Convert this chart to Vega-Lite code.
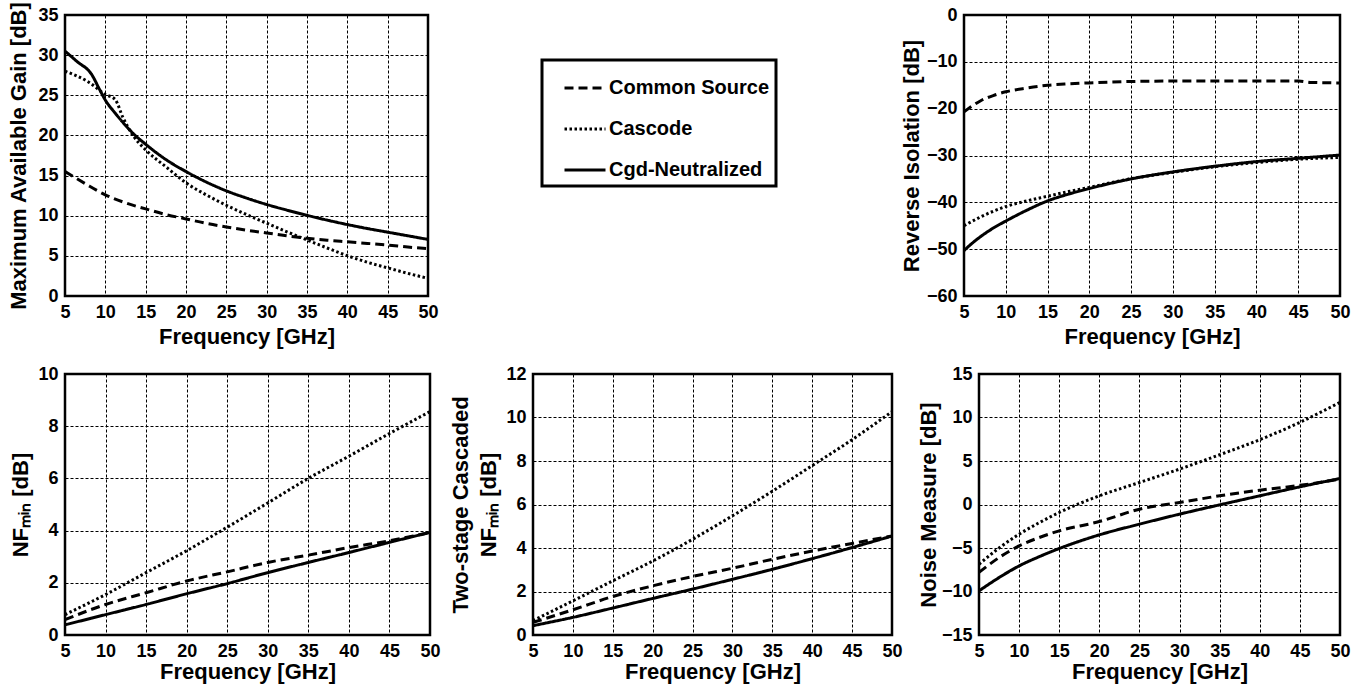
{
  "$schema": "https://vega.github.io/schema/vega-lite/v6.json",
  "background": "white",
  "padding": {"left": 6, "top": 0, "right": 5, "bottom": 2},
  "spacing": 14,
  "datasets": {
    "mag": [
      {"s": "Common Source", "f": 5, "v": 15.5}, {"s": "Common Source", "f": 7.5, "v": 14.0}, {"s": "Common Source", "f": 10, "v": 12.6},
      {"s": "Common Source", "f": 12.5, "v": 11.6}, {"s": "Common Source", "f": 15, "v": 10.85}, {"s": "Common Source", "f": 17.5, "v": 10.15},
      {"s": "Common Source", "f": 20, "v": 9.6}, {"s": "Common Source", "f": 22.5, "v": 9.05}, {"s": "Common Source", "f": 25, "v": 8.6},
      {"s": "Common Source", "f": 27.5, "v": 8.2}, {"s": "Common Source", "f": 30, "v": 7.85}, {"s": "Common Source", "f": 32.5, "v": 7.5},
      {"s": "Common Source", "f": 35, "v": 7.2}, {"s": "Common Source", "f": 37.5, "v": 6.95}, {"s": "Common Source", "f": 40, "v": 6.75},
      {"s": "Common Source", "f": 42.5, "v": 6.55}, {"s": "Common Source", "f": 45, "v": 6.35}, {"s": "Common Source", "f": 47.5, "v": 6.1},
      {"s": "Common Source", "f": 50, "v": 5.9},
      {"s": "Cascode", "f": 5, "v": 28.0}, {"s": "Cascode", "f": 8, "v": 26.6}, {"s": "Cascode", "f": 10, "v": 25.1},
      {"s": "Cascode", "f": 11.2, "v": 24.5}, {"s": "Cascode", "f": 12.2, "v": 22.2}, {"s": "Cascode", "f": 13.5, "v": 19.9},
      {"s": "Cascode", "f": 15, "v": 18.2}, {"s": "Cascode", "f": 17.5, "v": 16.1}, {"s": "Cascode", "f": 20, "v": 14.1},
      {"s": "Cascode", "f": 22.5, "v": 12.6}, {"s": "Cascode", "f": 25, "v": 11.3}, {"s": "Cascode", "f": 27.5, "v": 10.15},
      {"s": "Cascode", "f": 30, "v": 9.07}, {"s": "Cascode", "f": 32.5, "v": 8.0}, {"s": "Cascode", "f": 35, "v": 6.98},
      {"s": "Cascode", "f": 37.5, "v": 5.98}, {"s": "Cascode", "f": 40, "v": 5.02}, {"s": "Cascode", "f": 42.5, "v": 4.2},
      {"s": "Cascode", "f": 45, "v": 3.5}, {"s": "Cascode", "f": 47.5, "v": 2.82}, {"s": "Cascode", "f": 50, "v": 2.2},
      {"s": "Cgd-Neutralized", "f": 5, "v": 30.5}, {"s": "Cgd-Neutralized", "f": 6.5, "v": 29.2}, {"s": "Cgd-Neutralized", "f": 8.3, "v": 27.6},
      {"s": "Cgd-Neutralized", "f": 9.3, "v": 25.7}, {"s": "Cgd-Neutralized", "f": 10, "v": 24.4}, {"s": "Cgd-Neutralized", "f": 11.2, "v": 22.8},
      {"s": "Cgd-Neutralized", "f": 12.2, "v": 21.6}, {"s": "Cgd-Neutralized", "f": 13.5, "v": 20.2}, {"s": "Cgd-Neutralized", "f": 15, "v": 18.9},
      {"s": "Cgd-Neutralized", "f": 17.5, "v": 17.0}, {"s": "Cgd-Neutralized", "f": 20, "v": 15.5}, {"s": "Cgd-Neutralized", "f": 22.5, "v": 14.2},
      {"s": "Cgd-Neutralized", "f": 25, "v": 13.1}, {"s": "Cgd-Neutralized", "f": 27.5, "v": 12.2}, {"s": "Cgd-Neutralized", "f": 30, "v": 11.4},
      {"s": "Cgd-Neutralized", "f": 32.5, "v": 10.7}, {"s": "Cgd-Neutralized", "f": 35, "v": 10.05}, {"s": "Cgd-Neutralized", "f": 37.5, "v": 9.45},
      {"s": "Cgd-Neutralized", "f": 40, "v": 8.9}, {"s": "Cgd-Neutralized", "f": 42.5, "v": 8.4}, {"s": "Cgd-Neutralized", "f": 45, "v": 7.95},
      {"s": "Cgd-Neutralized", "f": 47.5, "v": 7.5}, {"s": "Cgd-Neutralized", "f": 50, "v": 7.05}
    ],
    "ri": [
      {"s": "Common Source", "f": 5, "v": -20.7}, {"s": "Common Source", "f": 6, "v": -19.4}, {"s": "Common Source", "f": 7, "v": -18.3},
      {"s": "Common Source", "f": 8.5, "v": -17.2}, {"s": "Common Source", "f": 10, "v": -16.4}, {"s": "Common Source", "f": 12.5, "v": -15.6},
      {"s": "Common Source", "f": 15, "v": -15.0}, {"s": "Common Source", "f": 17.5, "v": -14.7}, {"s": "Common Source", "f": 20, "v": -14.5},
      {"s": "Common Source", "f": 25, "v": -14.2}, {"s": "Common Source", "f": 30, "v": -14.1}, {"s": "Common Source", "f": 35, "v": -14.1},
      {"s": "Common Source", "f": 40, "v": -14.1}, {"s": "Common Source", "f": 45, "v": -14.1}, {"s": "Common Source", "f": 46.5, "v": -14.4},
      {"s": "Common Source", "f": 50, "v": -14.5},
      {"s": "Cascode", "f": 5, "v": -45.0}, {"s": "Cascode", "f": 7, "v": -43.1}, {"s": "Cascode", "f": 10, "v": -40.9},
      {"s": "Cascode", "f": 12.5, "v": -39.7}, {"s": "Cascode", "f": 15, "v": -38.7}, {"s": "Cascode", "f": 17.5, "v": -37.7},
      {"s": "Cascode", "f": 20, "v": -36.8}, {"s": "Cascode", "f": 25, "v": -34.95}, {"s": "Cascode", "f": 30, "v": -33.6},
      {"s": "Cascode", "f": 35, "v": -32.4}, {"s": "Cascode", "f": 40, "v": -31.5}, {"s": "Cascode", "f": 45, "v": -30.8},
      {"s": "Cascode", "f": 50, "v": -30.4},
      {"s": "Cgd-Neutralized", "f": 5, "v": -50.3}, {"s": "Cgd-Neutralized", "f": 6, "v": -48.7}, {"s": "Cgd-Neutralized", "f": 7, "v": -47.3},
      {"s": "Cgd-Neutralized", "f": 8.5, "v": -45.5}, {"s": "Cgd-Neutralized", "f": 10, "v": -44.0}, {"s": "Cgd-Neutralized", "f": 12.5, "v": -41.7},
      {"s": "Cgd-Neutralized", "f": 15, "v": -39.7}, {"s": "Cgd-Neutralized", "f": 17.5, "v": -38.25}, {"s": "Cgd-Neutralized", "f": 20, "v": -37.05},
      {"s": "Cgd-Neutralized", "f": 25, "v": -35.0}, {"s": "Cgd-Neutralized", "f": 30, "v": -33.5}, {"s": "Cgd-Neutralized", "f": 35, "v": -32.3},
      {"s": "Cgd-Neutralized", "f": 40, "v": -31.3}, {"s": "Cgd-Neutralized", "f": 45, "v": -30.6}, {"s": "Cgd-Neutralized", "f": 50, "v": -29.9}
    ],
    "nf": [
      {"s": "Common Source", "f": 5, "v": 0.59}, {"s": "Common Source", "f": 10, "v": 1.17}, {"s": "Common Source", "f": 15, "v": 1.62},
      {"s": "Common Source", "f": 20, "v": 2.07}, {"s": "Common Source", "f": 25, "v": 2.42}, {"s": "Common Source", "f": 30, "v": 2.78},
      {"s": "Common Source", "f": 35, "v": 3.06}, {"s": "Common Source", "f": 40, "v": 3.35}, {"s": "Common Source", "f": 45, "v": 3.61},
      {"s": "Common Source", "f": 50, "v": 3.93},
      {"s": "Cascode", "f": 5, "v": 0.78}, {"s": "Cascode", "f": 10, "v": 1.55}, {"s": "Cascode", "f": 15, "v": 2.39},
      {"s": "Cascode", "f": 20, "v": 3.23}, {"s": "Cascode", "f": 25, "v": 4.13}, {"s": "Cascode", "f": 30, "v": 5.06},
      {"s": "Cascode", "f": 35, "v": 6.0}, {"s": "Cascode", "f": 40, "v": 6.85}, {"s": "Cascode", "f": 45, "v": 7.72},
      {"s": "Cascode", "f": 50, "v": 8.56},
      {"s": "Cgd-Neutralized", "f": 5, "v": 0.39}, {"s": "Cgd-Neutralized", "f": 10, "v": 0.78}, {"s": "Cgd-Neutralized", "f": 15, "v": 1.17},
      {"s": "Cgd-Neutralized", "f": 20, "v": 1.58}, {"s": "Cgd-Neutralized", "f": 25, "v": 1.97}, {"s": "Cgd-Neutralized", "f": 30, "v": 2.39},
      {"s": "Cgd-Neutralized", "f": 35, "v": 2.78}, {"s": "Cgd-Neutralized", "f": 40, "v": 3.16}, {"s": "Cgd-Neutralized", "f": 45, "v": 3.55},
      {"s": "Cgd-Neutralized", "f": 50, "v": 3.93}
    ],
    "nf2": [
      {"s": "Common Source", "f": 5, "v": 0.58}, {"s": "Common Source", "f": 10, "v": 1.16}, {"s": "Common Source", "f": 15, "v": 1.77},
      {"s": "Common Source", "f": 20, "v": 2.26}, {"s": "Common Source", "f": 25, "v": 2.69}, {"s": "Common Source", "f": 30, "v": 3.07},
      {"s": "Common Source", "f": 35, "v": 3.48}, {"s": "Common Source", "f": 40, "v": 3.86}, {"s": "Common Source", "f": 45, "v": 4.21},
      {"s": "Common Source", "f": 50, "v": 4.55},
      {"s": "Cascode", "f": 5, "v": 0.66}, {"s": "Cascode", "f": 10, "v": 1.57}, {"s": "Cascode", "f": 15, "v": 2.49},
      {"s": "Cascode", "f": 20, "v": 3.4}, {"s": "Cascode", "f": 25, "v": 4.4}, {"s": "Cascode", "f": 30, "v": 5.48},
      {"s": "Cascode", "f": 35, "v": 6.61}, {"s": "Cascode", "f": 40, "v": 7.79}, {"s": "Cascode", "f": 45, "v": 8.98},
      {"s": "Cascode", "f": 50, "v": 10.27},
      {"s": "Cgd-Neutralized", "f": 5, "v": 0.43}, {"s": "Cgd-Neutralized", "f": 10, "v": 0.81}, {"s": "Cgd-Neutralized", "f": 15, "v": 1.24},
      {"s": "Cgd-Neutralized", "f": 20, "v": 1.68}, {"s": "Cgd-Neutralized", "f": 25, "v": 2.11}, {"s": "Cgd-Neutralized", "f": 30, "v": 2.56},
      {"s": "Cgd-Neutralized", "f": 35, "v": 3.02}, {"s": "Cgd-Neutralized", "f": 40, "v": 3.51}, {"s": "Cgd-Neutralized", "f": 45, "v": 4.02},
      {"s": "Cgd-Neutralized", "f": 50, "v": 4.55}
    ],
    "nm": [
      {"s": "Common Source", "f": 5, "v": -7.8}, {"s": "Common Source", "f": 7.5, "v": -6.1}, {"s": "Common Source", "f": 10, "v": -4.76},
      {"s": "Common Source", "f": 12.5, "v": -3.8}, {"s": "Common Source", "f": 15, "v": -3.03}, {"s": "Common Source", "f": 20, "v": -1.96},
      {"s": "Common Source", "f": 25, "v": -0.54}, {"s": "Common Source", "f": 30, "v": 0.23}, {"s": "Common Source", "f": 35, "v": 1.0},
      {"s": "Common Source", "f": 40, "v": 1.65}, {"s": "Common Source", "f": 45, "v": 2.2}, {"s": "Common Source", "f": 50, "v": 2.92},
      {"s": "Cascode", "f": 5, "v": -6.87}, {"s": "Cascode", "f": 7.5, "v": -5.0}, {"s": "Cascode", "f": 10, "v": -3.41},
      {"s": "Cascode", "f": 12.5, "v": -2.1}, {"s": "Cascode", "f": 15, "v": -0.92}, {"s": "Cascode", "f": 20, "v": 1.0},
      {"s": "Cascode", "f": 25, "v": 2.53}, {"s": "Cascode", "f": 30, "v": 4.07}, {"s": "Cascode", "f": 35, "v": 5.72},
      {"s": "Cascode", "f": 40, "v": 7.45}, {"s": "Cascode", "f": 45, "v": 9.44}, {"s": "Cascode", "f": 50, "v": 11.74},
      {"s": "Cgd-Neutralized", "f": 5, "v": -9.93}, {"s": "Cgd-Neutralized", "f": 7.5, "v": -8.4}, {"s": "Cgd-Neutralized", "f": 10, "v": -7.06},
      {"s": "Cgd-Neutralized", "f": 12.5, "v": -6.0}, {"s": "Cgd-Neutralized", "f": 15, "v": -5.06}, {"s": "Cgd-Neutralized", "f": 20, "v": -3.49},
      {"s": "Cgd-Neutralized", "f": 25, "v": -2.26}, {"s": "Cgd-Neutralized", "f": 30, "v": -1.11}, {"s": "Cgd-Neutralized", "f": 35, "v": -0.04},
      {"s": "Cgd-Neutralized", "f": 40, "v": 1.0}, {"s": "Cgd-Neutralized", "f": 45, "v": 2.03}, {"s": "Cgd-Neutralized", "f": 50, "v": 2.99}
    ]
  },
  "vconcat": [
    {
      "spacing": 459,
      "hconcat": [
        {
          "width": 363, "height": 281,
          "data": {"name": "mag"},
          "mark": {"type": "line", "color": "black", "strokeWidth": 3, "interpolate": "monotone", "clip": true},
          "encoding": {
            "x": {"field": "f", "type": "quantitative", "scale": {"domain": [5, 50], "nice": false, "zero": false},
                  "axis": {"values": [5, 10, 15, 20, 25, 30, 35, 40, 45, 50], "title": "Frequency [GHz]", "titlePadding": 5}},
            "y": {"field": "v", "type": "quantitative", "scale": {"domain": [0, 35], "nice": false},
                  "axis": {"values": [0, 5, 10, 15, 20, 25, 30, 35], "title": "Maximum Available Gain [dB]", "titlePadding": 7}},
            "strokeDash": {"field": "s", "type": "nominal",
                           "scale": {"domain": ["Common Source", "Cascode", "Cgd-Neutralized"], "range": [[9, 5], [2.5, 2.5], [1, 0]]},
                           "legend": {"title": null}}
          }
        },
        {
          "width": 376, "height": 281,
          "data": {"name": "ri"},
          "mark": {"type": "line", "color": "black", "strokeWidth": 3, "interpolate": "monotone", "clip": true},
          "encoding": {
            "x": {"field": "f", "type": "quantitative", "scale": {"domain": [5, 50], "nice": false, "zero": false},
                  "axis": {"values": [5, 10, 15, 20, 25, 30, 35, 40, 45, 50], "title": "Frequency [GHz]", "titlePadding": 5}},
            "y": {"field": "v", "type": "quantitative", "scale": {"domain": [-60, 0], "nice": false},
                  "axis": {"values": [-60, -50, -40, -30, -20, -10, 0], "title": "Reverse Isolation [dB]", "titlePadding": 3}},
            "strokeDash": {"field": "s", "type": "nominal",
                           "scale": {"domain": ["Common Source", "Cascode", "Cgd-Neutralized"], "range": [[9, 5], [2.5, 2.5], [1, 0]]},
                           "legend": {"title": null}}
          }
        }
      ]
    },
    {
      "spacing": 6,
      "hconcat": [
        {
          "width": 365, "height": 261,
          "data": {"name": "nf"},
          "mark": {"type": "line", "color": "black", "strokeWidth": 3, "interpolate": "monotone", "clip": true},
          "encoding": {
            "x": {"field": "f", "type": "quantitative", "scale": {"domain": [5, 50], "nice": false, "zero": false},
                  "axis": {"values": [5, 10, 15, 20, 25, 30, 35, 40, 45, 50], "title": "Frequency [GHz]", "titlePadding": 1}},
            "y": {"field": "v", "type": "quantitative", "scale": {"domain": [0, 10], "nice": false},
                  "axis": {"values": [0, 2, 4, 6, 8, 10], "title": "NFₘᵢₙ [dB]", "titlePadding": 5}},
            "strokeDash": {"field": "s", "type": "nominal",
                           "scale": {"domain": ["Common Source", "Cascode", "Cgd-Neutralized"], "range": [[9, 5], [2.5, 2.5], [1, 0]]},
                           "legend": {"title": null}}
          }
        },
        {
          "spacing": 12,
          "hconcat": [
            {
              "width": 359, "height": 261,
              "data": {"name": "nf2"},
              "mark": {"type": "line", "color": "black", "strokeWidth": 3, "interpolate": "monotone", "clip": true},
              "encoding": {
                "x": {"field": "f", "type": "quantitative", "scale": {"domain": [5, 50], "nice": false, "zero": false},
                      "axis": {"values": [5, 10, 15, 20, 25, 30, 35, 40, 45, 50], "title": "Frequency [GHz]", "titlePadding": 1}},
                "y": {"field": "v", "type": "quantitative", "scale": {"domain": [0, 12], "nice": false},
                      "axis": {"values": [0, 2, 4, 6, 8, 10, 12], "title": ["Two-stage Cascaded", "NFₘᵢₙ [dB]"], "titleLineHeight": 28, "titlePadding": 5}},
                "strokeDash": {"field": "s", "type": "nominal",
                               "scale": {"domain": ["Common Source", "Cascode", "Cgd-Neutralized"], "range": [[9, 5], [2.5, 2.5], [1, 0]]},
                               "legend": {"title": null}}
              }
            },
            {
              "width": 361, "height": 261,
              "data": {"name": "nm"},
              "mark": {"type": "line", "color": "black", "strokeWidth": 3, "interpolate": "monotone", "clip": true},
              "encoding": {
                "x": {"field": "f", "type": "quantitative", "scale": {"domain": [5, 50], "nice": false, "zero": false},
                      "axis": {"values": [5, 10, 15, 20, 25, 30, 35, 40, 45, 50], "title": "Frequency [GHz]", "titlePadding": 1}},
                "y": {"field": "v", "type": "quantitative", "scale": {"domain": [-15, 15], "nice": false},
                      "axis": {"values": [-15, -10, -5, 0, 5, 10, 15], "title": "Noise Measure [dB]", "titlePadding": 1}},
                "strokeDash": {"field": "s", "type": "nominal",
                               "scale": {"domain": ["Common Source", "Cascode", "Cgd-Neutralized"], "range": [[9, 5], [2.5, 2.5], [1, 0]]},
                               "legend": {"title": null}}
              }
            }
          ]
        }
      ]
    }
  ],
  "config": {
    "font": "Liberation Sans",
    "view": {"stroke": "black", "strokeWidth": 2.5},
    "axis": {
      "domain": false,
      "ticks": false,
      "tickSize": 0,
      "grid": true,
      "gridColor": "black",
      "gridDash": [3, 2],
      "gridWidth": 1,
      "gridOpacity": 1,
      "labelFont": "Liberation Sans",
      "labelFontWeight": "bold",
      "labelFontSize": 18,
      "labelColor": "black",
      "labelPadding": 7,
      "labelFlush": false,
      "labelOverlap": false,
      "titleFont": "Liberation Sans",
      "titleFontWeight": "bold",
      "titleFontSize": 22,
      "titleColor": "black"
    },
    "legend": {
      "orient": "none",
      "legendX": 477,
      "legendY": 45,
      "strokeColor": "black",
      "strokeWidth": 3,
      "padding": 6,
      "symbolType": "stroke",
      "symbolSize": 1681,
      "symbolStrokeWidth": 3,
      "symbolStrokeColor": "black",
      "symbolOffset": 15,
      "labelFont": "Liberation Sans",
      "labelFontWeight": "bold",
      "labelFontSize": 20,
      "labelColor": "black",
      "labelOffset": 2,
      "labelLimit": 400,
      "rowPadding": 9
    }
  }
}
